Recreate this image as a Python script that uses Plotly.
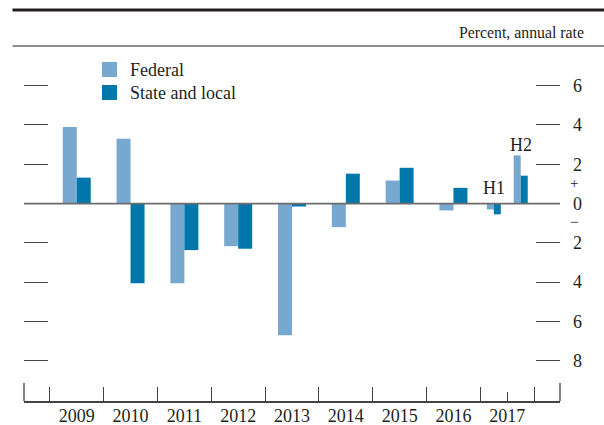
import plotly.graph_objects as go

# values, percent annual rate
periods = ['2009', '2010', '2011', '2012', '2013', '2014', '2015', '2016', '2017 H1', '2017 H2']
federal = [3.9, 3.3, -4.05, -2.17, -6.7, -1.2, 1.17, -0.35, -0.3, 2.45]
state_local = [1.32, -4.05, -2.37, -2.3, -0.15, 1.52, 1.82, 0.8, -0.55, 1.42]

years = ['2009', '2010', '2011', '2012', '2013', '2014', '2015', '2016', '2017']
right_ticks = [-8, -6, -4, -2, 0, 2, 4, 6]
series_names = ['Federal', 'State and local']

FED_COLOR = '#77a8cf'
SL_COLOR = '#0077ab'
INK = '#231f20'
FONT = 'Liberation Serif'

# x position of each period: year index, halves split the 2017 slot
xpos, widths = [], []
for p in periods:
    i = years.index(p[:4])
    if p.endswith('H1'):
        xpos.append(i - 0.25)
        widths.append(0.13)
    elif p.endswith('H2'):
        xpos.append(i + 0.25)
        widths.append(0.13)
    else:
        xpos.append(i)
        widths.append(0.26)

fig = go.Figure()
fig.add_trace(go.Bar(x=xpos, y=federal, width=widths, offset=[-w for w in widths],
                     marker_color=FED_COLOR, marker_line_width=0, name=series_names[0]))
fig.add_trace(go.Bar(x=xpos, y=state_local, width=widths, offset=[0] * len(widths),
                     marker_color=SL_COLOR, marker_line_width=0, name=series_names[1]))
# invisible trace so the boundary-tick axis gets drawn
fig.add_trace(go.Scatter(x=[0], y=[0], xaxis='x2', yaxis='y2', mode='markers',
                         marker_opacity=0, showlegend=False, hoverinfo='skip'))

xr = [-0.98, 8.98]
yr = [-10.05, 8.02]
PW, PH, L, T = 536, 355, 24, 46   # plot area size and offsets in px


def px(x):
    return (x - L) / PW


def py(y):
    return (T + PH - y) / PH


fig.update_layout(
    width=604, height=425,
    autosize=False,
    margin=dict(l=24, r=44, t=46, b=24, pad=0),
    paper_bgcolor='white', plot_bgcolor='white',
    barmode='overlay',
    font=dict(family=FONT, size=18, color=INK),
    showlegend=False,
    xaxis=dict(range=xr, tickvals=list(range(len(years))), ticktext=years,
               ticks='', showgrid=False, zeroline=False, automargin=False,
               showline=True, linecolor='#444', linewidth=1.5,
               ticklabelstandoff=-2, tickfont=dict(size=18)),
    xaxis2=dict(range=xr, overlaying='x', anchor='y', side='bottom', automargin=False,
                tickvals=[i - 0.5 for i in range(len(years) + 1)],
                ticks='inside', ticklen=14, tickwidth=1.3, tickcolor='#444',
                showticklabels=False, showgrid=False, zeroline=False,
                minor=dict(tickvals=[8], ticks='inside', ticklen=9,
                           tickwidth=1.3, tickcolor='#444')),
    yaxis=dict(range=yr, tickvals=right_ticks, ticks='inside', ticklen=24,
               tickwidth=1.3, tickcolor='#444', showticklabels=False, automargin=False,
               showgrid=False, zeroline=False, showline=False),
    yaxis2=dict(range=yr, overlaying='y', side='right', anchor='x', automargin=False,
                tickvals=right_ticks, ticktext=[str(abs(v)) for v in right_ticks],
                ticks='inside', ticklen=24, tickwidth=1.3, tickcolor='#444',
                showgrid=False, zeroline=False, showline=False,
                ticklabelstandoff=12, tickfont=dict(size=18)),
)

# zero line drawn over the bars
fig.add_shape(type='line', xref='paper', yref='y', x0=0, x1=1, y0=0, y1=0,
              line=dict(color='#6d6d6d', width=1.8), layer='above')
# end ticks of the bottom axis
for xe in (0, 1):
    fig.add_shape(type='line', xref='paper', yref='paper', x0=xe, x1=xe,
                  y0=0, y1=18 / PH, line=dict(color='#444', width=1.3))
# header rules
fig.add_shape(type='line', xref='paper', yref='paper', x0=px(12.5), x1=px(606),
              y0=py(10), y1=py(10), line=dict(color=INK, width=3))
fig.add_shape(type='line', xref='paper', yref='paper', x0=px(12.5), x1=px(606),
              y0=1, y1=1, line=dict(color=INK, width=1.2))

fig.add_annotation(text='Percent, annual rate', xref='paper', yref='paper',
                   x=px(586), y=py(32), xanchor='right',
                   yanchor='middle', showarrow=False, font=dict(size=15.8))

# legend keys and labels
for k, (name, col) in enumerate(zip(series_names, [FED_COLOR, SL_COLOR])):
    yc = 69.5 + 23 * k
    fig.add_shape(type='rect', xref='paper', yref='paper',
                  x0=px(102), x1=px(117), y0=py(yc - 7.5), y1=py(yc + 7.5),
                  fillcolor=col, line_width=0)
    fig.add_annotation(text=name, xref='paper', yref='paper', x=px(128), y=py(yc),
                       xanchor='left', yanchor='middle', showarrow=False,
                       font=dict(size=18))

# + / − signs beside zero on the right scale
fig.add_annotation(text='+', xref='paper', yref='y', x=px(580), y=1.05,
                   showarrow=False, font=dict(size=15))
fig.add_annotation(text='\u2212', xref='paper', yref='y', x=px(580), y=-0.95,
                   showarrow=False, font=dict(size=15))
# half-year labels
fig.add_annotation(text='H1', x=xpos[-2], y=0.8, showarrow=False, font=dict(size=18))
fig.add_annotation(text='H2', x=xpos[-1], y=3.0, showarrow=False, font=dict(size=18))

fig.write_html('out.html', config={'displayModeBar': False},
               post_script="document.body.style.margin='0';")
